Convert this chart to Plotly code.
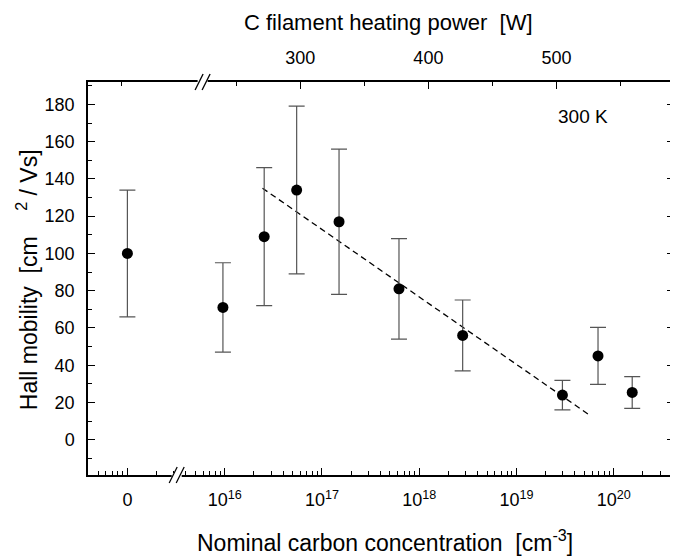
import plotly.graph_objects as go

# ---------------- data ----------------
conc = [0, 9.6e15, 2.55e16, 5.5e16, 1.5e17, 6.2e17, 2.8e18, 2.97e19, 6.9e19, 1.55e20]
mobility = [100, 71, 109, 134, 117, 81, 56, 24, 45, 25.4]
mobility_err = [34, 24, 37, 45, 39, 27, 19, 7.9, 15.3, 8.5]
fit_conc = [2.45e16, 5.45e19]
fit_mobility = [135, 13.8]
zero_position = 1e15  # where "0" sits on the broken log axis

x_tick_vals = [1e15, 1e16, 1e17, 1e18, 1e19, 1e20]
x_tick_text = ["0", "10<sup>16</sup>", "10<sup>17</sup>", "10<sup>18</sup>",
               "10<sup>19</sup>", "10<sup>20</sup>"]
power_tick_vals = [300, 400, 500]
power_minor_vals = [160, 250, 350, 450, 550]

# ---------------- layout geometry (screen pixels) ----------------
W, H = 678, 556
OFF = 8                      # default page margin of the html body
L, R, T, B = 88, 676, 82, 475
pw, ph = R - L, B - T

def px(x):
    return (x - L) / pw

def py(y):
    return (B - y) / ph

x_plot = [zero_position if c == 0 else c for c in conc]

minor_x = []
for d in range(14, 21):
    for m in range(2, 10):
        minor_x.append(float(m) * 10.0 ** d)

fig = go.Figure()
fig.add_trace(go.Scatter(
    x=fit_conc, y=fit_mobility, mode="lines",
    line=dict(color="black", width=1.3, dash="6px,4px"),
    showlegend=False, hoverinfo="skip"))
fig.add_trace(go.Scatter(
    x=x_plot, y=mobility, mode="markers",
    marker=dict(color="black", size=11),
    error_y=dict(type="data", array=mobility_err, visible=True,
                 color="#555555", thickness=1.2, width=8),
    showlegend=False))
fig.add_trace(go.Scatter(
    x=power_tick_vals, y=[0] * len(power_tick_vals), xaxis="x2",
    mode="markers", marker=dict(opacity=0), showlegend=False, hoverinfo="skip"))

font = "Liberation Sans, Arial, sans-serif"
tickfont = dict(family=font, size=18, color="black")

fig.update_layout(
    width=W, height=H,
    margin=dict(l=L - OFF, r=W - (R - OFF), t=T - OFF, b=H - (B - OFF), pad=0),
    paper_bgcolor="white", plot_bgcolor="white",
    font=dict(family=font, color="black"),
    xaxis=dict(
        type="log", range=[14.595, 20.62],
        tickmode="array", tickvals=x_tick_vals, ticktext=x_tick_text,
        ticks="inside", ticklen=7, tickwidth=1.2, tickcolor="black",
        ticklabelstandoff=8,
        showline=True, linecolor="black", linewidth=1.5, mirror=False,
        showgrid=False, zeroline=False, tickfont=tickfont,
        minor=dict(tickmode="array", tickvals=minor_x, ticks="inside",
                   ticklen=4, tickwidth=1, tickcolor="black", showgrid=False),
    ),
    xaxis2=dict(
        overlaying="x", side="top", anchor="y", range=[134.2, 591.8],
        tickmode="array", tickvals=power_tick_vals,
        ticks="inside", ticklen=7, tickwidth=1.2, tickcolor="black",
        ticklabelstandoff=9,
        showline=True, linecolor="black", linewidth=1.5,
        showgrid=False, zeroline=False, tickfont=tickfont,
        minor=dict(tickmode="array", tickvals=power_minor_vals, ticks="inside",
                   ticklen=4, tickwidth=1, tickcolor="black", showgrid=False),
    ),
    yaxis=dict(
        range=[-18.9, 192], tickmode="linear", tick0=0, dtick=20,
        ticks="inside", ticklen=7, tickwidth=1.2, tickcolor="black",
        ticklabelstandoff=8,
        showline=True, linecolor="black", linewidth=1.5, mirror="ticks",
        showgrid=False, zeroline=False, tickfont=tickfont,
        minor=dict(dtick=10, ticks="inside", ticklen=4, tickwidth=1,
                   tickcolor="black", showgrid=False),
    ),
)

nb = "\u00a0"
annotations = [
    dict(text="C filament heating power" + nb * 2 + "[W]", x=px(390), y=py(23),
         font=dict(size=22)),
    dict(text="Nominal carbon concentration" + nb * 2 + "[cm<sup>-3</sup>]",
         x=px(386), y=py(541), font=dict(size=23)),
    dict(text="Hall mobility" + nb * 2 + "[cm" + nb * 4 + "<sup>2</sup>" + nb + "/ Vs]",
         x=px(27), y=py(280), textangle=-90, font=dict(size=23)),
    dict(text="300 K", x=px(585), y=py(117), font=dict(size=19)),
]
for a in annotations:
    a.update(xref="paper", yref="paper", showarrow=False,
             xanchor="center", yanchor="middle")
fig.update_layout(annotations=annotations)

# axis break marks "//"
shapes = []
for bx, by in [(177, B), (203, T)]:
    shapes.append(dict(type="rect", xref="paper", yref="paper",
                       xsizemode="pixel", ysizemode="pixel",
                       xanchor=px(bx), yanchor=py(by),
                       x0=-5, x1=5, y0=-2, y1=2,
                       fillcolor="white", line=dict(width=0)))
    for off in (-3.5, 3.5):
        shapes.append(dict(type="line", xref="paper", yref="paper",
                           xsizemode="pixel", ysizemode="pixel",
                           xanchor=px(bx), yanchor=py(by),
                           x0=off - 4, x1=off + 4, y0=-8, y1=8,
                           line=dict(color="black", width=1.3)))
fig.update_layout(shapes=shapes)

fig.write_html("out.html")
